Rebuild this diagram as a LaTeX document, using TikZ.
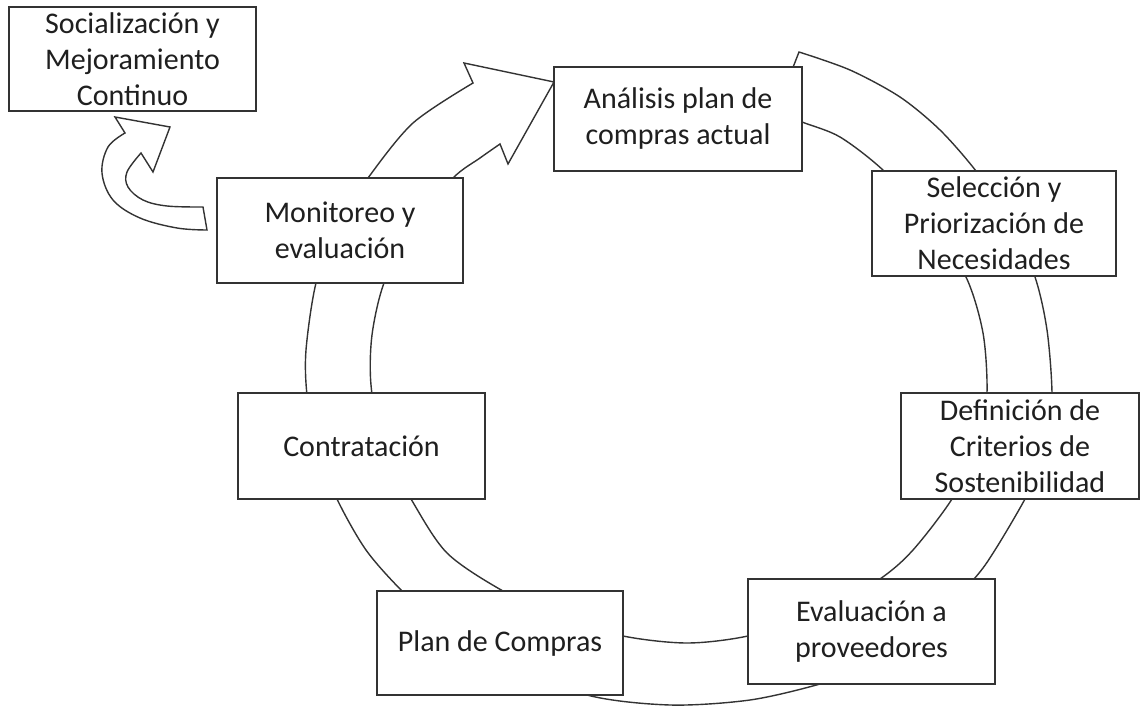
\documentclass[tikz,border=0pt]{standalone}
\usepackage{fontspec}
\setmainfont{Carlito}
\begin{document}
\begin{tikzpicture}[x=0.5pt,y=-0.5pt,
  box/.style={draw=black!80, fill=white, line width=0.75pt, align=center, inner sep=0pt,
    font=\fontsize{15}{18}\selectfont, text=black!88},
  ring/.style={draw=black!80, fill=white, line width=0.7pt, line join=miter}]
\useasboundingbox (0,0) rectangle (1141,706);

% big circular arrow
\draw[ring] plot[smooth, tension=0.5] coordinates {
  (799,52) (850,70) (900,97) (940,130) (976,171) (1010,220) (1035,277) (1047,330)
  (1052,393) (1049,450) (1025,499) (995,550) (974,579) (922,633) (870,666) (820,684)
  (750,700) (670,705) (587,695) (500,660) (440,625) (402,591) (366,550) (337,499)
  (316,445) (307,395) (306,350) (316,283) (337,226) (368,178) (413,123) (473,83)}
  -- (464,63) -- (554,82) -- (508,164)
  -- plot[smooth, tension=0.5] coordinates {
  (500,144) (480,158) (453,178) (412,227) (384,283) (372,335) (371,385)
  (382,445) (411,499) (447,553) (503,591) (560,617) (623,636) (687,643) (748,636) (820,615)
  (880,579) (913,550) (952,499) (980,445) (987,393) (983,333) (966,277) (930,222)
  (884,171) (840,137) (802,122) (776,111)}
  -- cycle;

% small curved arrow
\draw[ring] plot[smooth, tension=0.6] coordinates {
  (207,230) (177,228) (140,218) (113,200) (102,173) (108,147) (125,133)}
  -- (115,117) -- (170,127) -- (153,172)
  -- plot[smooth, tension=0.6] coordinates {
  (141,153) (127,172) (128,187) (143,200) (167,206) (203,207)}
  -- cycle;

% boxes
\node[box, minimum width=123.5pt, minimum height=52pt] (soc) at (132.5,59)
  {Socialización y\\Mejoramiento\\Continuo};
\node[box, minimum width=124pt, minimum height=52pt] (ana) at (678,119)
  {Análisis plan de\\compras actual};
\node[box, minimum width=122pt, minimum height=52.5pt] (sel) at (994,223.5)
  {Selección y\\Priorización de\\Necesidades};
\node[box, minimum width=119pt, minimum height=53pt] (def) at (1020,446)
  {Definición de\\Criterios de\\Sostenibilidad};
\node[box, minimum width=123.5pt, minimum height=52.5pt] (eva) at (871.5,631.5)
  {Evaluación a\\proveedores};
\node[box, minimum width=123pt, minimum height=52pt] (plan) at (500,643)
  {Plan de Compras};
\node[box, minimum width=123.5pt, minimum height=53pt] (con) at (361.5,446)
  {Contratación};
\node[box, minimum width=123pt, minimum height=52.5pt] (mon) at (340,230.5)
  {Monitoreo y\\evaluación};
\end{tikzpicture}
\end{document}
